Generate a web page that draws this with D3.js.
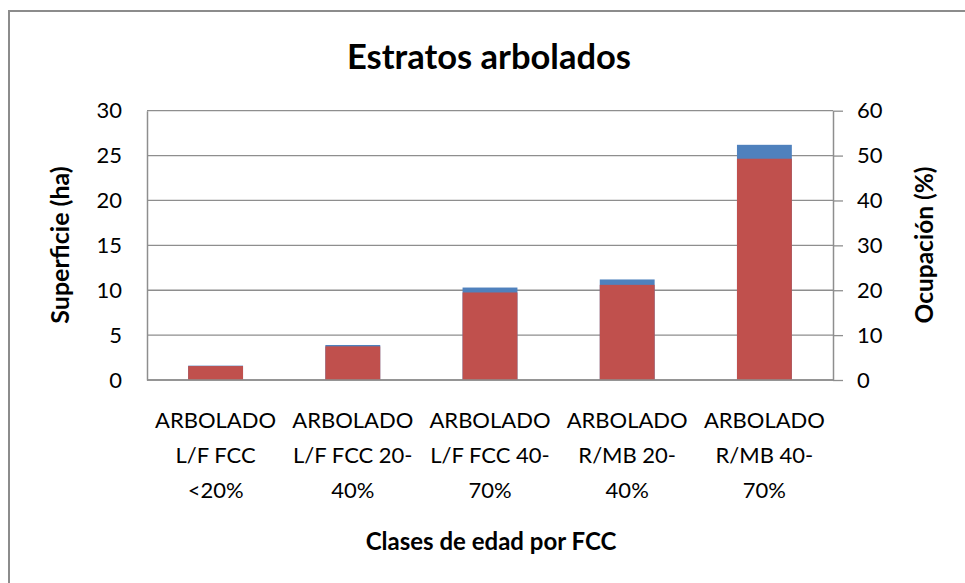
<!DOCTYPE html>
<html>
<head>
<meta charset="utf-8">
<script src="https://cdn.jsdelivr.net/npm/d3@7"></script>
<style>
  html, body { margin: 0; padding: 0; background: #fff; }
  svg text { font-family: Lato, "Open Sans", sans-serif; fill: #000; }
</style>
</head>
<body>
<div id="chart"></div>
<script>
// categories (each label is split into lines like the original)
var categories = [
    ["ARBOLADO", "L/F FCC", "<20%"],
    ["ARBOLADO", "L/F FCC 20-", "40%"],
    ["ARBOLADO", "L/F FCC 40-", "70%"],
    ["ARBOLADO", "R/MB 20-", "40%"],
    ["ARBOLADO", "R/MB 40-", "70%"]
];
var superficie = [1.6, 3.9, 10.3, 11.2, 26.2];   // ha, left axis
var ocupacion = [3.1, 7.5, 19.5, 21.2, 49.3];    // %, right axis
var leftTicks = [0, 5, 10, 15, 20, 25, 30];
var rightTicks = [0, 10, 20, 30, 40, 50, 60];

var width = 965, height = 583;
var plotLeft = 147, plotRight = 833, plotTop = 110.7, plotBottom = 380;

var svg = d3.select("#chart").append("svg")
    .attr("width", width)
    .attr("height", height);

svg.append("rect")
    .attr("width", width).attr("height", height)
    .attr("fill", "#fff");

// outer border of the chart area (runs off the right and bottom)
svg.append("path")
    .attr("d", "M9," + (height + 2) + "V11H" + (width + 2))
    .attr("fill", "none")
    .attr("stroke", "#8c8c8c")
    .attr("stroke-width", 2);

var x = d3.scaleBand()
    .domain(d3.range(categories.length))
    .range([plotLeft, plotRight])
    .paddingInner(0.6)
    .paddingOuter(0.3);

var yL = d3.scaleLinear().domain([0, 30]).range([plotBottom, plotTop]);
var yR = d3.scaleLinear().domain([0, 60]).range([plotBottom, plotTop]);

// gridlines
svg.append("g").selectAll("line")
    .data(leftTicks)
    .enter().append("line")
    .attr("x1", plotLeft).attr("x2", plotRight)
    .attr("y1", function(d) { return yL(d); })
    .attr("y2", function(d) { return yL(d); })
    .attr("stroke", "#8e8e8e")
    .attr("stroke-width", 1.3);

// blue bars (behind), red bars (in front)
svg.append("g").selectAll("rect")
    .data(superficie)
    .enter().append("rect")
    .attr("x", function(d, i) { return x(i); })
    .attr("width", x.bandwidth())
    .attr("y", function(d) { return yL(d); })
    .attr("height", function(d) { return plotBottom - yL(d); })
    .attr("fill", "#4f81bd");

svg.append("g").selectAll("rect")
    .data(ocupacion)
    .enter().append("rect")
    .attr("x", function(d, i) { return x(i); })
    .attr("width", x.bandwidth())
    .attr("y", function(d) { return yR(d); })
    .attr("height", function(d) { return plotBottom - yR(d); })
    .attr("fill", "#c0504d");

// left axis
var axL = svg.append("g")
    .attr("transform", "translate(" + plotLeft + ",0)")
    .call(d3.axisLeft(yL).tickValues(leftTicks).tickSize(0).tickPadding(25));
axL.select(".domain").attr("stroke", "#8e8e8e").attr("stroke-width", 1.5);
axL.selectAll("text").style("font-size", "22px").attr("fill", "#000");

// right axis
var axR = svg.append("g")
    .attr("transform", "translate(" + plotRight + ",0)")
    .call(d3.axisRight(yR).tickValues(rightTicks).tickSize(10).tickSizeOuter(0).tickPadding(14));
axR.select(".domain").attr("stroke", "#8e8e8e").attr("stroke-width", 1.5);
axR.selectAll(".tick line").attr("stroke", "#8e8e8e").attr("stroke-width", 1.3);
axR.selectAll("text").style("font-size", "22px").attr("fill", "#000");

// bottom axis line
svg.append("line")
    .attr("x1", plotLeft).attr("x2", plotRight)
    .attr("y1", plotBottom).attr("y2", plotBottom)
    .attr("stroke", "#8e8e8e").attr("stroke-width", 1.5);

// category labels
var cat = svg.append("g").selectAll("text")
    .data(categories)
    .enter().append("text")
    .attr("text-anchor", "middle")
    .style("font-size", "22px");
cat.each(function(lines, i) {
    var t = d3.select(this);
    lines.forEach(function(s, k) {
        t.append("tspan")
            .attr("x", x(i) + x.bandwidth() / 2)
            .attr("y", 428 + k * 35)
            .text(s);
    });
});

// titles
svg.append("text")
    .attr("x", 489).attr("y", 69)
    .attr("text-anchor", "middle")
    .style("font-size", "34.5px").style("font-weight", "bold")
    .text("Estratos arbolados");

svg.append("text")
    .attr("x", 491).attr("y", 550)
    .attr("text-anchor", "middle")
    .style("font-size", "24px").style("font-weight", "bold")
    .text("Clases de edad por FCC");

svg.append("text")
    .attr("transform", "translate(69,245) rotate(-90)")
    .attr("text-anchor", "middle")
    .style("font-size", "25px").style("font-weight", "bold")
    .text("Superficie (ha)");

svg.append("text")
    .attr("transform", "translate(933,245) rotate(-90)")
    .attr("text-anchor", "middle")
    .style("font-size", "24.5px").style("font-weight", "bold")
    .text("Ocupación (%)");
</script>
</body>
</html>
